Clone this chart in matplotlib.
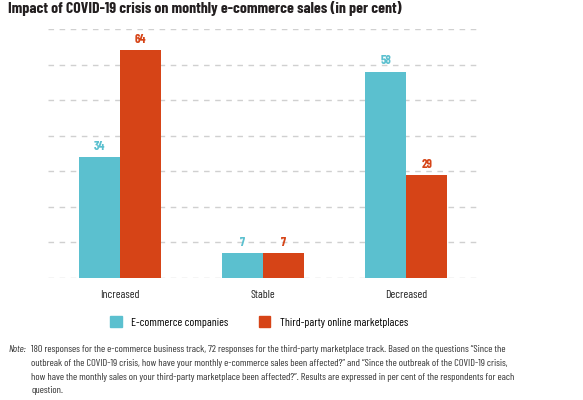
import numpy as np
import matplotlib
matplotlib.use('Agg')
import matplotlib.pyplot as plt
from matplotlib.patches import Patch

categories = ['Increased', 'Stable', 'Decreased']
ecommerce = [34, 7, 58]
marketplaces = [64, 7, 29]
series_names = ['E-commerce companies', 'Third-party online marketplaces']

cyan = '#5bc0cf'
red = '#d64417'

plt.rcParams['font.family'] = ['Barlow Condensed', 'Roboto Condensed', 'Liberation Sans', 'DejaVu Sans']

fig = plt.figure(figsize=(5.83, 4.0), dpi=100)
ax = fig.add_axes([48/583, 1 - 278/400, 430/583, 249/400])

x = np.arange(len(categories))
w = 0.287
b1 = ax.bar(x - w/2, ecommerce, w, color=cyan, zorder=2)
b2 = ax.bar(x + w/2, marketplaces, w, color=red, zorder=2)

for bars, vals, col in [(b1, ecommerce, cyan), (b2, marketplaces, red)]:
    for b, v in zip(bars, vals):
        ax.text(b.get_x() + b.get_width()/2, v + 1.5, str(v), ha='center', va='bottom',
                color=col, fontsize=9, fontweight='bold')

ax.set_xlim(-0.5, 2.5)
ax.set_ylim(0, 70)
ax.set_yticks(np.arange(0, 71, 10))
ax.yaxis.grid(True, color='#d0d0d0', linestyle=(0, (4, 4)), linewidth=1, zorder=0)
ax.tick_params(axis='y', left=False, labelleft=False)
ax.tick_params(axis='x', length=0, pad=9, labelsize=8.4, colors='#222222')
ax.set_xticks(x)
ax.set_xticklabels(categories)
for s in ax.spines.values():
    s.set_visible(False)

fig.text(8/583, 1 - 9/400, 'Impact of COVID-19 crisis on monthly e-commerce sales (in per cent)',
         fontsize=11.35, fontweight='bold', va='center', ha='left', color='#231f20')

handles = [Patch(color=cyan), Patch(color=red)]
fig.legend(handles, series_names, loc='center', bbox_to_anchor=(259/583, 1 - 322/400),
           ncol=2, frameon=False, fontsize=8.4, handlelength=1.0, handleheight=1.0,
           columnspacing=2.6, handletextpad=0.8)

fig.text(8/583, 1 - 350/400, 'Note:', fontsize=7.4, style='italic', va='center', color='#333333')
note = ['180 responses for the e-commerce business track, 72 responses for the third-party marketplace track. Based on the questions \u201cSince the',
        'outbreak of the COVID-19 crisis, how have your monthly e-commerce sales been affected?\u201d and \u201cSince the outbreak of the COVID-19 crisis,',
        'how have the monthly sales on your third-party marketplace been affected?\u201d. Results are expressed in per cent of the respondents for each',
        'question.']
for i, line in enumerate(note):
    fig.text(31/583, 1 - (350 + i*13.5)/400, line, fontsize=7.4, va='center', color='#333333')

fig.savefig('out.png', dpi=100)
